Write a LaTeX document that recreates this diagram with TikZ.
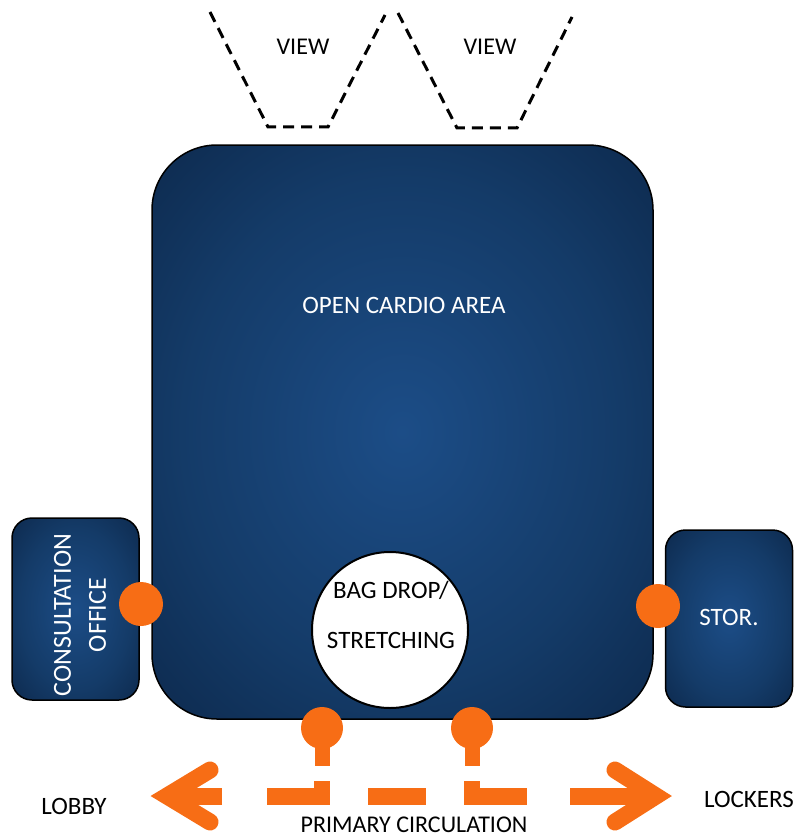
\documentclass[tikz,border=0pt]{standalone}
\usepackage{fontspec}
\setmainfont{Carlito}
\definecolor{bxA}{HTML}{1C4D87}
\definecolor{bxB}{HTML}{143B68}
\definecolor{bxC}{HTML}{0A2242}
\definecolor{bxD}{HTML}{040D1A}
\definecolor{orng}{HTML}{F76D15}
\pgfdeclareradialshading{boxglow}{\pgfpoint{0bp}{0bp}}{color(0bp)=(bxA); color(22bp)=(bxB); color(42bp)=(bxC); color(49bp)=(bxD); color(75bp)=(bxD)}
\begin{document}
\begin{tikzpicture}[x=1pt,y=-1pt,
  room/.style={draw=black, line width=1.5pt, shade, shading=boxglow, inner sep=0pt},
  wlabel/.style={text=white, font=\fontsize{25}{28}\selectfont, inner sep=0pt},
  blabel/.style={text=black, font=\fontsize{25}{28}\selectfont, inner sep=0pt},
  odot/.style={circle, fill=orng, inner sep=0pt, minimum size=#1},
  orngline/.style={draw=orng, line width=17pt},
  stemline/.style={draw=orng, line width=15pt},
  viewline/.style={draw=black, line width=3pt, dash pattern=on 11pt off 7pt}
]
\useasboundingbox (0,0) rectangle (804,840);

% view lines
\draw[viewline] (210,12) coordinate (v1a) -- (268,127) coordinate (v1b) -- (328,127) coordinate (v1c) -- (385,15) coordinate (v1d);
\draw[viewline] (398,13) coordinate (v2a) -- (457,128) coordinate (v2b) -- (517,128) coordinate (v2c) -- (572,17) coordinate (v2d);
\node[blabel, font=\fontsize{24}{26}\selectfont] (view1) at (303,47) {VIEW};
\node[blabel, font=\fontsize{24}{26}\selectfont] (view2) at (490,47) {VIEW};

% rooms
\node[room, rounded corners=65pt, minimum width=501pt, minimum height=574pt] (cardio) at (402.5,432) {};
\node[room, rounded corners=20pt, minimum width=127pt, minimum height=182pt] (consult) at (75.5,609) {};
\node[room, rounded corners=20pt, minimum width=127pt, minimum height=177pt] (stor) at (729,618.5) {};

\node[wlabel] (cardiotxt) at (404,305) {OPEN CARDIO AREA};
\node[wlabel, rotate=90, align=center, font=\fontsize{26}{35}\selectfont] (consulttxt) at (80,615) {CONSULTATION\\OFFICE};
\node[wlabel] (stortxt) at (729,617) {STOR.};

% bag drop circle
\node[circle, fill=white, draw=black, line width=2pt, minimum size=156pt, inner sep=0pt] (bag) at (390,630) {};
\node[blabel, align=center, font=\fontsize{25}{50}\selectfont] (bagtxt) at (391,615) {BAG DROP/\\STRETCHING};

% doors
\node[odot=44pt] (dl) at (141,604) {};
\node[odot=44pt] (dr) at (658,606) {};
\node[odot=42pt] (db1) at (322,728) {};
\node[odot=42pt] (db2) at (472,728) {};

% stems
\coordinate (s1) at (322,766);
\coordinate (s2) at (472,766);
\draw[stemline] (db1.center) -- (s1);
\draw[stemline] (db2.center) -- (s2);

% primary circulation
\coordinate (la) at (210,770);
\coordinate (lt) at (167,796);
\coordinate (lb) at (210,822);
\coordinate (ls) at (222,796);
\draw[orngline, line cap=round, line join=miter] (la) -- (lt) -- (lb);
\draw[orngline] (lt) -- (ls);

\coordinate (d2a) at (267,796);
\coordinate (d2b) at (330,796);
\draw[orngline] (d2a) -- (d2b);
\draw[draw=orng, line width=16pt] (322,781) coordinate (k1) -- (322,796) coordinate (k1b);

\coordinate (d3a) at (368,796);
\coordinate (d3b) at (426,796);
\draw[orngline] (d3a) -- (d3b);

\coordinate (d4a) at (464,796);
\coordinate (d4b) at (527,796);
\draw[orngline] (d4a) -- (d4b);
\draw[draw=orng, line width=16pt] (472,781) coordinate (k2) -- (472,796) coordinate (k2b);

\coordinate (d5a) at (570,796);
\coordinate (rt) at (656,796);
\coordinate (ra) at (615,770);
\coordinate (rb) at (615,822);
\draw[orngline] (d5a) -- (rt);
\draw[orngline, line cap=round, line join=miter] (ra) -- (rt) -- (rb);

\node[blabel] (lobby) at (74,806) {LOBBY};
\node[blabel] (lockers) at (749,799) {LOCKERS};
\node[blabel, font=\fontsize{24}{26}\selectfont] (primary) at (414,825) {PRIMARY CIRCULATION};
\end{tikzpicture}
\end{document}
